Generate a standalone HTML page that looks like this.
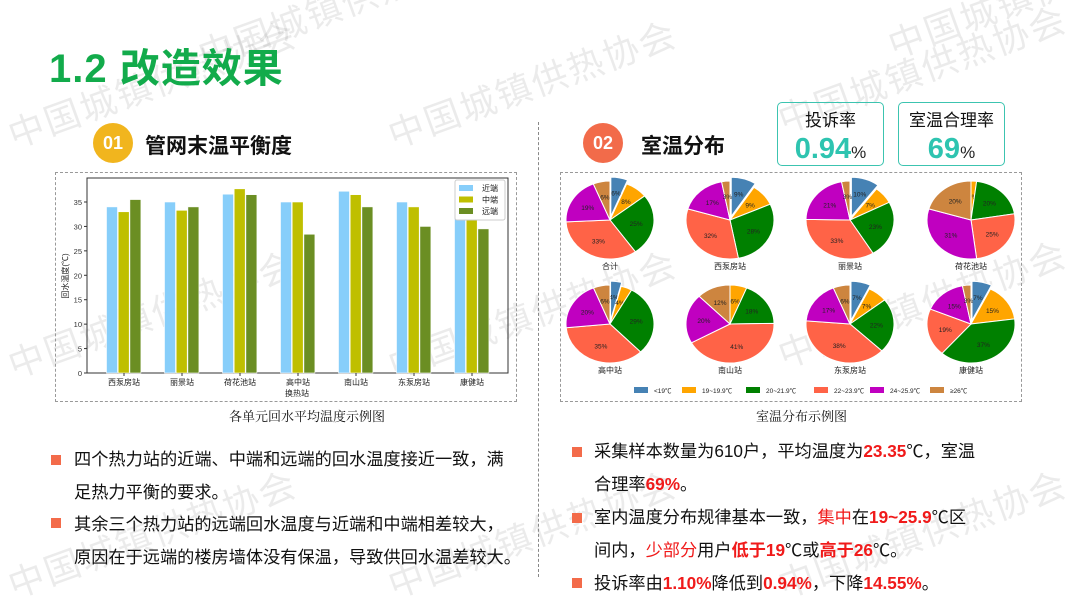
<!DOCTYPE html>
<html><head><meta charset="utf-8">
<style>
*{margin:0;padding:0;box-sizing:border-box}
body{width:1080px;height:608px;background:#fff;position:relative;overflow:hidden;font-family:"Liberation Sans","Noto Sans CJK SC",sans-serif;color:#111}
.abs{position:absolute}
.wm{position:absolute;color:rgba(0,0,0,0.08);font-size:36px;transform:rotate(-20deg);transform-origin:left top;white-space:nowrap;letter-spacing:2px}
.badge{position:absolute;width:40px;height:40px;border-radius:50%;color:#fff;font-weight:bold;font-size:18px;text-align:center;line-height:40px}
.h2{position:absolute;font-size:21px;font-weight:bold}
.kbox{position:absolute;border:1.5px solid #3cc4b0;border-radius:5px;text-align:center}
.kbox .t{font-size:17px;margin-top:3px}
.kbox .v{font-size:29px;font-weight:bold;color:#2ec4b0;margin-top:2px}
.kbox .v span{font-size:17px;color:#222;font-weight:normal}
.dash{position:absolute;border:1px dashed #999}
.cap{position:absolute;font-family:"Liberation Serif","Noto Serif CJK SC",serif;font-size:13px}
.txt{position:absolute;font-size:17.2px;line-height:32.5px;white-space:nowrap}
.b{position:absolute;width:10px;height:10px;background:#f36b4a}
.r{color:#f01a1a;font-weight:bold}
.rn{color:#f01a1a}
</style></head><body>
<div class="wm" style="left:0;top:110px">中国城镇供热协会</div>
<div class="wm" style="left:380px;top:110px">中国城镇供热协会</div>
<div class="wm" style="left:770px;top:95px">中国城镇供热协会</div>
<div class="wm" style="left:0;top:340px">中国城镇供热协会</div>
<div class="wm" style="left:380px;top:340px">中国城镇供热协会</div>
<div class="wm" style="left:770px;top:330px">中国城镇供热协会</div>
<div class="wm" style="left:0;top:560px">中国城镇供热协会</div>
<div class="wm" style="left:380px;top:560px">中国城镇供热协会</div>
<div class="wm" style="left:770px;top:560px">中国城镇供热协会</div>
<div class="wm" style="left:190px;top:30px">中国城镇供热协会</div>
<div class="wm" style="left:880px;top:20px">中国城镇供热协会</div>

<div class="abs" style="left:49px;top:36px;font-size:40px;font-weight:bold;color:#12ab4b;letter-spacing:1px">1.2 改造效果</div>

<div class="badge" style="left:93px;top:123px;background:#f1b51e">01</div>
<div class="h2" style="left:145px;top:130px">管网末温平衡度</div>
<div class="badge" style="left:583px;top:123px;background:#f26b4a">02</div>
<div class="h2" style="left:641px;top:130px">室温分布</div>

<div class="kbox" style="left:777px;top:102px;width:107px;height:64px"><div class="t">投诉率</div><div class="v">0.94<span>%</span></div></div>
<div class="kbox" style="left:898px;top:102px;width:107px;height:64px"><div class="t">室温合理率</div><div class="v">69<span>%</span></div></div>

<div class="abs" style="left:538px;top:122px;height:455px;border-left:1px dashed #888"></div>
<div class="dash" style="left:55px;top:172px;width:462px;height:230px"></div>
<div class="dash" style="left:560px;top:172px;width:462px;height:230px"></div>

<svg class="abs" style="left:0;top:0" width="1080" height="608" id="svg"></svg>

<div class="cap" style="left:229px;top:406px">各单元回水平均温度示例图</div>
<div class="cap" style="left:756px;top:406px">室温分布示例图</div>

<div class="b" style="left:51px;top:455px"></div>
<div class="b" style="left:51px;top:518px"></div>
<div class="txt" style="left:74px;top:443px">四个热力站的近端、中端和远端的回水温度接近一致，满<br>足热力平衡的要求。<br>其余三个热力站的远端回水温度与近端和中端相差较大，<br>原因在于远端的楼房墙体没有保温，导致供回水温差较大。</div>

<div class="b" style="left:572px;top:447px"></div>
<div class="b" style="left:572px;top:513px"></div>
<div class="b" style="left:572px;top:578px"></div>
<div class="txt" style="left:594px;top:435px;line-height:33px">采集样本数量为610户，平均温度为<span class="r">23.35</span>℃，室温<br>合理率<span class="r">69%</span>。<br>室内温度分布规律基本一致，<span class="rn">集中</span>在<span class="r">19~25.9</span>℃区<br>间内，<span class="rn">少部分</span>用户<span class="r">低于19</span>℃或<span class="r">高于26</span>℃。<br>投诉率由<span class="r">1.10%</span>降低到<span class="r">0.94%</span>，下降<span class="r">14.55%</span>。</div>

<script>
var s='';
var X0=87,X1=508,Y0=373,YT=178,k=171/35;
s+='<rect x="'+X0+'" y="'+YT+'" width="'+(X1-X0)+'" height="'+(Y0-YT)+'" fill="none" stroke="#333" stroke-width="1"/>';
for(var t=0;t<=35;t+=5){var y=Y0-t*k;s+='<line x1="'+(X0-3)+'" x2="'+X0+'" y1="'+y+'" y2="'+y+'" stroke="#333"/><text x="'+(X0-5)+'" y="'+(y+3)+'" font-size="7.5" text-anchor="end" fill="#333">'+t+'</text>';}
var names=['西泵房站','丽景站','荷花池站','高中站','南山站','东泵房站','康健站'];
var d=[[34,33,35.5],[35,33.3,34],[36.6,37.7,36.5],[35,35,28.4],[37.2,36.5,34],[35,34,30],[33,32,29.5]];
var cols=['#87cefa','#bfbf00','#6b8e23'];
for(var i=0;i<7;i++){var cx=124+i*58;
 for(var j=0;j<3;j++){var h=d[i][j]*k;s+='<rect x="'+(cx-17.5+j*11.7)+'" y="'+(Y0-h)+'" width="11" height="'+h+'" fill="'+cols[j]+'" stroke="#fff" stroke-width="0.6"/>';}
 s+='<line x1="'+cx+'" x2="'+cx+'" y1="'+Y0+'" y2="'+(Y0+3)+'" stroke="#333"/><text x="'+cx+'" y="'+(Y0+12)+'" font-size="8" text-anchor="middle" fill="#222">'+names[i]+'</text>';}
s+='<text x="297" y="396" font-size="8" text-anchor="middle" fill="#222">换热站</text>';
s+='<text transform="translate(68,276) rotate(-90)" font-size="8" text-anchor="middle" fill="#222">回水温度(℃)</text>';
s+='<rect x="455" y="180" width="50" height="40" fill="#fff" stroke="#ccc" rx="2"/>';
var ln=['近端','中端','远端'];
for(var j=0;j<3;j++){s+='<rect x="459" y="'+(185+j*11.5)+'" width="14" height="6" fill="'+cols[j]+'"/><text x="482" y="'+(191+j*11.5)+'" font-size="8" fill="#222">'+ln[j]+'</text>';}
var pc=['#4682b4','#ffa500','#008000','#ff6347','#c000c0','#cd853f'];
var pies=[['合计',[6,8,25,33,19,6]],['西泵房站',[9,9,28,32,17,3]],['丽景站',[10,7,23,33,21,3]],['荷花池站',[0,2,20,25,31,20]],
['高中站',[4,4,29,35,20,6]],['南山站',[0,6,18,41,20,12]],['东泵房站',[7,7,22,38,17,6]],['康健站',[7,15,37,19,15,3]]];
var cxs=[610,730,850,971],cys=[220,324],rx=44,ry=39;
for(var p=0;p<8;p++){var cx=cxs[p%4],cy=cys[Math.floor(p/4)],v=pies[p][1],tot=0;v.forEach(function(a){tot+=a});
 var a0=0;
 for(var j=0;j<6;j++){var f=v[j]/tot,a1=a0+f*2*Math.PI;var am=(a0+a1)/2;
  var ox=0,oy=0;if(j==0&&v[0]>0){ox=Math.sin(am)*rx*0.1;oy=-Math.cos(am)*ry*0.1;}
  var x0=cx+ox+rx*Math.sin(a0),y0=cy+oy-ry*Math.cos(a0),x1=cx+ox+rx*Math.sin(a1),y1=cy+oy-ry*Math.cos(a1);
  if(f>0){s+='<path d="M'+(cx+ox)+','+(cy+oy)+' L'+x0+','+y0+' A'+rx+','+ry+' 0 '+(f>0.5?1:0)+',1 '+x1+','+y1+' Z" fill="'+pc[j]+'" stroke="#fff" stroke-width="1"/>';}
  var lx=cx+ox+rx*0.6*Math.sin(am),ly=cy+oy-ry*0.6*Math.cos(am);
  s+='<text x="'+lx+'" y="'+(ly+2.5)+'" font-size="6.5" text-anchor="middle" fill="#222">'+v[j]+'%</text>';
  a0=a1;}
 s+='<text x="'+cx+'" y="'+(cy+ry+10)+'" font-size="8" text-anchor="middle" fill="#222">'+pies[p][0]+'</text>';}
var lg=['<19℃','19~19.9℃','20~21.9℃','22~23.9℃','24~25.9℃','≥26℃'];
var lx=[634,682,746,814,870,930];
for(var j=0;j<6;j++){s+='<rect x="'+lx[j]+'" y="387" width="14" height="6" fill="'+pc[j]+'"/><text x="'+(lx[j]+20)+'" y="393" font-size="6.5" fill="#222">'+lg[j]+'</text>';}
document.getElementById('svg').innerHTML=s;
</script>
</body></html>
